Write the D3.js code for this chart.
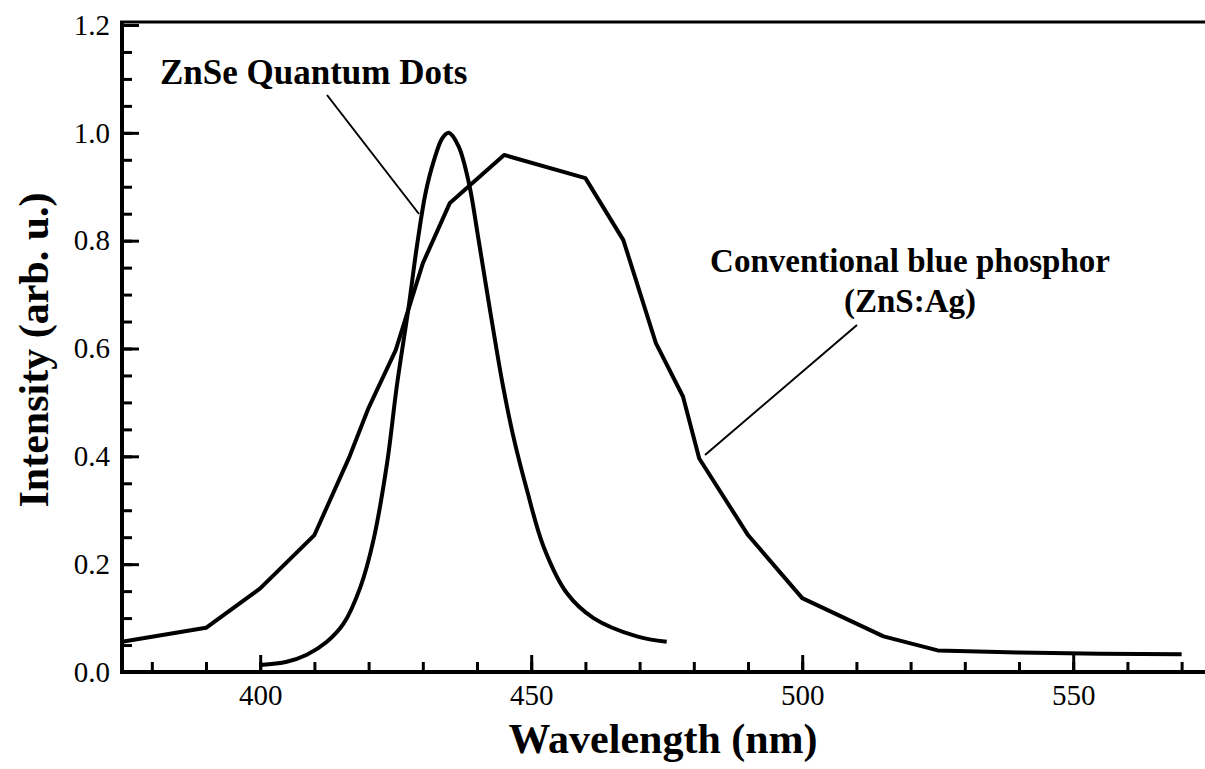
<!DOCTYPE html>
<html>
<head>
<meta charset="utf-8">
<script src="https://cdn.jsdelivr.net/npm/d3@7.9.0/dist/d3.min.js"></script>
<style>
  body { margin: 0; background: #fff; }
  svg { display: block; font-family: "Liberation Serif", "Times New Roman", serif; }
</style>
</head>
<body>
<svg width="1205" height="769"></svg>
<script>
// ZnS:Ag phosphor spectrum (piecewise linear in the original)
const phosphorWl  = [374.5, 390, 400, 410, 416.5, 420, 425, 430, 435, 445, 460, 467, 473, 478, 481, 490, 500, 515, 525, 540, 555, 570];
const phosphorInt = [0.056, 0.082, 0.155, 0.254, 0.40, 0.49, 0.597, 0.758, 0.870, 0.959, 0.916, 0.801, 0.61, 0.511, 0.396, 0.254, 0.137, 0.066, 0.040, 0.036, 0.034, 0.033];

// ZnSe quantum dot spectrum (smooth)
const qdWl  = [400, 404.9, 408.6, 412.3, 415.4, 418.5, 420.9, 423.4, 425.2, 427.4, 428.9, 430.5, 432.0, 433.6, 434.8, 436.6, 438.5, 440.3, 442.5, 444.8, 446.7, 449.2, 452.3, 456.6, 461.5, 469.5, 475];
const qdInt = [0.013, 0.019, 0.032, 0.056, 0.090, 0.158, 0.245, 0.387, 0.530, 0.678, 0.789, 0.888, 0.947, 0.990, 1.0, 0.975, 0.907, 0.801, 0.665, 0.530, 0.437, 0.338, 0.232, 0.146, 0.100, 0.066, 0.056];

const xMajor = [400, 450, 500, 550];
const xMinor = d3.range(380, 575, 10);
const yMajor = [0.0, 0.2, 0.4, 0.6, 0.8, 1.0, 1.2];
const yMinor = d3.range(0, 1.2001, 0.05);

const svg = d3.select('svg');
const x = d3.scaleLinear().domain([374.5, 574.5]).range([122, 1206]);
const y = d3.scaleLinear().domain([0, 1.2]).range([672, 25]);

// minor ticks
svg.append('g')
  .attr('transform', 'translate(0,672)')
  .call(d3.axisBottom(x).tickValues(xMinor).tickSize(-10).tickFormat(''))
  .call(g => g.select('.domain').remove())
  .call(g => g.selectAll('line').attr('stroke-width', 3));
svg.append('g')
  .attr('transform', 'translate(122,0)')
  .call(d3.axisLeft(y).tickValues(yMinor).tickSize(-10).tickFormat(''))
  .call(g => g.select('.domain').remove())
  .call(g => g.selectAll('line').attr('stroke-width', 3));

// major ticks + labels
svg.append('g')
  .attr('transform', 'translate(0,672)')
  .call(d3.axisBottom(x).tickValues(xMajor).tickSize(-17).tickPadding(14).tickFormat(d3.format('d')))
  .call(g => g.select('.domain').remove())
  .call(g => g.selectAll('line').attr('stroke-width', 3))
  .call(g => g.selectAll('text').attr('font-size', 29).attr('font-family', 'Liberation Serif').attr('dy', '0.71em').attr('y', 12));
svg.append('g')
  .attr('transform', 'translate(122,0)')
  .call(d3.axisLeft(y).tickValues(yMajor).tickSize(-17).tickPadding(12).tickFormat(d3.format('.1f')))
  .call(g => g.select('.domain').remove())
  .call(g => g.selectAll('line').attr('stroke-width', 3))
  .call(g => g.selectAll('text').attr('font-size', 29).attr('font-family', 'Liberation Serif'));

// frame: left, bottom, top
svg.append('line').attr('x1', 122).attr('x2', 122).attr('y1', 21).attr('y2', 674)
  .attr('stroke', '#000').attr('stroke-width', 4);
svg.append('line').attr('x1', 120).attr('x2', 1205).attr('y1', 672).attr('y2', 672)
  .attr('stroke', '#000').attr('stroke-width', 4);
svg.append('line').attr('x1', 120).attr('x2', 1205).attr('y1', 22).attr('y2', 22)
  .attr('stroke', '#000').attr('stroke-width', 3);

// curves
const phosphor = phosphorWl.map((w, i) => [w, phosphorInt[i]]);
const qd = qdWl.map((w, i) => [w, qdInt[i]]);

svg.append('path')
  .attr('d', d3.line().x(d => x(d[0])).y(d => y(d[1]))(phosphor))
  .attr('fill', 'none').attr('stroke', '#000').attr('stroke-width', 4).attr('stroke-linejoin', 'round');
svg.append('path')
  .attr('d', d3.line().x(d => x(d[0])).y(d => y(d[1])).curve(d3.curveCatmullRom)(qd))
  .attr('fill', 'none').attr('stroke', '#000').attr('stroke-width', 4).attr('stroke-linejoin', 'round');

// annotations
svg.append('text').attr('x', 160).attr('y', 84)
  .attr('font-size', 35).attr('font-weight', 'bold').text('ZnSe Quantum Dots');
svg.append('line').attr('x1', 327).attr('y1', 95).attr('x2', 419).attr('y2', 214)
  .attr('stroke', '#000').attr('stroke-width', 2);

svg.append('text').attr('x', 910).attr('y', 272).attr('text-anchor', 'middle')
  .attr('font-size', 33).attr('font-weight', 'bold').text('Conventional blue phosphor');
svg.append('text').attr('x', 910).attr('y', 312).attr('text-anchor', 'middle')
  .attr('font-size', 33).attr('font-weight', 'bold').text('(ZnS:Ag)');
svg.append('line').attr('x1', 857).attr('y1', 325).attr('x2', 705).attr('y2', 455)
  .attr('stroke', '#000').attr('stroke-width', 2);

// axis titles
svg.append('text').attr('x', 663).attr('y', 753).attr('text-anchor', 'middle')
  .attr('font-size', 42).attr('font-weight', 'bold').text('Wavelength (nm)');
svg.append('text').attr('transform', 'translate(48,350) rotate(-90)').attr('text-anchor', 'middle')
  .attr('font-size', 42).attr('font-weight', 'bold').text('Intensity (arb. u.)');
</script>
</body>
</html>
